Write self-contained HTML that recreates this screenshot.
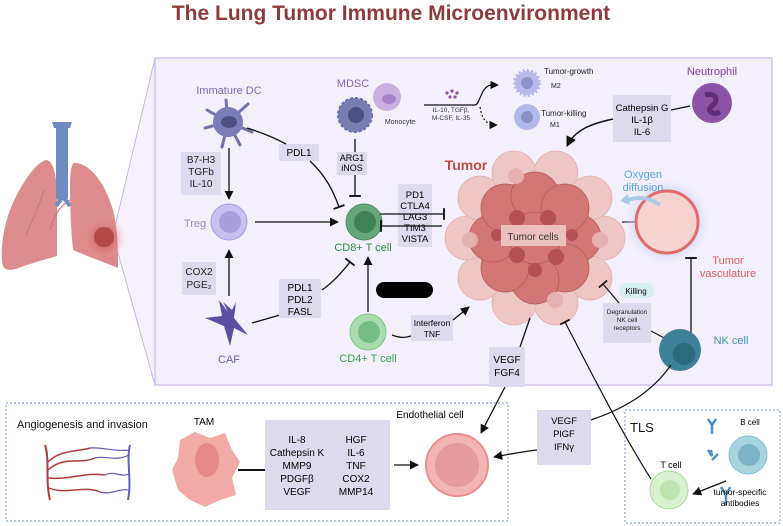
<!DOCTYPE html>
<html><head><meta charset="utf-8"><style>
html,body{margin:0;padding:0;background:#fff;}
svg{display:block;font-family:"Liberation Sans",Arial,sans-serif;}
</style></head><body>
<svg width="783" height="526" viewBox="0 0 783 526" xmlns="http://www.w3.org/2000/svg">
<defs>
<marker id="a" viewBox="0 0 10 10" refX="9" refY="5" markerWidth="7" markerHeight="7" orient="auto"><path d="M0,0L10,5L0,10z" fill="#111"/></marker>
<marker id="t" viewBox="0 0 10 10" refX="5" refY="5" markerWidth="9" markerHeight="9" orient="auto"><path d="M5,0V10" stroke="#111" stroke-width="1.6"/></marker>
<radialGradient id="glow"><stop offset="0.55" stop-color="#b8c8f0" stop-opacity="0.9"/><stop offset="1" stop-color="#f3effa" stop-opacity="0"/></radialGradient>
<radialGradient id="lglow"><stop offset="0.2" stop-color="#c43030" stop-opacity="0.6"/><stop offset="1" stop-color="#e8a0a0" stop-opacity="0"/></radialGradient>
</defs>
<text x="391" y="20" text-anchor="middle" font-size="21" font-weight="bold" fill="#8e3b3b">The Lung Tumor Immune Microenvironment</text>

<!-- wedge + main box -->
<polygon points="155,58 113,235 155,385" fill="#f5f0fc" stroke="#c9b5e8" stroke-width="1"/>
<rect x="155" y="58" width="617" height="327" fill="#f4f0fb" stroke="#d3c2ea" stroke-width="1.5"/>

<!-- lung -->
<path d="M46,160 C36,162 20,185 10,210 C2,232 0,255 3,266 C6,272 14,270 24,266 C36,262 50,258 57,256 L57,200 C57,178 54,160 46,160Z" fill="#dc8c8c"/>
<path d="M74,163 C90,162 106,185 113,210 C118,230 118,250 118,268 C104,262 86,256 73,250 C71,230 70,210 70,190 C70,175 71,164 74,163Z" fill="#dc8c8c"/>
<path d="M70,200 C62,205 56,210 50,230 M44,190 C38,210 30,225 26,235" stroke="#c97878" stroke-width="1.2" fill="none"/>
<circle cx="104" cy="238" r="22" fill="url(#lglow)"/>
<rect x="56" y="126" width="12" height="74" rx="3" fill="#6e8cc0"/>
<path d="M52,122 l20,0 l-2,6 l-16,0z" fill="#6e8cc0"/>
<path d="M62,198 L56,206 M64,198 L70,206" stroke="#6e8cc0" stroke-width="4"/>
<circle cx="104" cy="237" r="10" fill="#b44848"/>

<!-- Immature DC -->
<text x="229" y="94" text-anchor="middle" font-size="11" fill="#8066b0">Immature DC</text>
<g stroke="#7272ad" stroke-width="3" stroke-linecap="round">
<line x1="228" y1="122" x2="207" y2="110"/><line x1="228" y1="122" x2="248" y2="104"/><line x1="228" y1="122" x2="205" y2="128"/><line x1="228" y1="122" x2="252" y2="132"/><line x1="228" y1="122" x2="222" y2="147"/><line x1="228" y1="122" x2="240" y2="145"/><line x1="228" y1="122" x2="226" y2="100"/></g>
<circle cx="228" cy="122" r="15" fill="#7c7cb8"/><ellipse cx="229" cy="122" rx="8" ry="6" fill="#4f4f80"/>
<rect x="181" y="152" width="40" height="43" fill="#dcdaec"/>
<text font-size="10" fill="#222" text-anchor="middle"><tspan x="201" y="163">B7-H3</tspan><tspan x="201" y="175">TGFb</tspan><tspan x="201" y="187">IL-10</tspan></text>
<line x1="229" y1="148" x2="229" y2="199" stroke="#111" stroke-width="1.3" marker-end="url(#a)"/>

<!-- Treg -->
<text x="195" y="227" text-anchor="middle" font-size="11" fill="#9a84c8">Treg</text>
<circle cx="229" cy="222" r="18" fill="#c7c0f0" stroke="#a89ee0"/><circle cx="230" cy="222" r="11" fill="#a99fdf"/>
<line x1="255" y1="222" x2="338" y2="222" stroke="#111" stroke-width="1.3" marker-end="url(#a)"/>

<rect x="182" y="262" width="34" height="33" fill="#dcdaec"/>
<text font-size="10" fill="#222" text-anchor="middle"><tspan x="199" y="275">COX2</tspan><tspan x="199" y="288">PGE₂</tspan></text>
<line x1="229" y1="296" x2="229" y2="250" stroke="#111" stroke-width="1.3" marker-end="url(#a)"/>

<!-- CAF -->
<path d="M219,300 L228,312 L223,302 L232,310 L236,302 L234,318 L248,335 L234,328 L230,346 L224,326 L205,318 L222,316Z" fill="#5b4ea5"/>
<text x="229" y="363" text-anchor="middle" font-size="11" fill="#6a5cb0">CAF</text>
<path d="M252,323 L280,315" stroke="#111" stroke-width="1.3"/>

<!-- PDL1 -->
<rect x="279" y="144" width="40" height="17" fill="#dcdaec"/><text x="299" y="156" text-anchor="middle" font-size="10">PDL1</text>
<path d="M247,128 C260,132 275,138 286,144" stroke="#111" stroke-width="1.3" fill="none"/>
<path d="M310,161 C325,175 333,190 339,207" stroke="#111" stroke-width="1.3" fill="none" marker-end="url(#t)"/>

<!-- MDSC -->
<text x="353" y="87" text-anchor="middle" font-size="11" fill="#8066b0">MDSC</text>
<circle cx="355" cy="115" r="17" fill="#7a7db2" stroke="#6b6ea6" stroke-dasharray="3 2" stroke-width="2"/><circle cx="356" cy="115" r="8" fill="#4d4f80"/>
<line x1="355" y1="139" x2="355" y2="152" stroke="#111" stroke-width="1.3"/>
<rect x="337" y="152" width="30" height="23" fill="#dcdaec"/>
<text font-size="9" text-anchor="middle"><tspan x="352" y="161">ARG1</tspan><tspan x="352" y="171">iNOS</tspan></text>
<line x1="355" y1="175" x2="355" y2="196" stroke="#111" stroke-width="1.3" marker-end="url(#t)"/>

<!-- CD8 -->
<circle cx="364" cy="222" r="18" fill="#66a67a" stroke="#4d8c61"/><circle cx="365" cy="222" r="11" fill="#3f8253"/>
<text x="363" y="251" text-anchor="middle" font-size="11" fill="#2e8a3e">CD8+ T cell</text>
<rect x="398" y="184" width="34" height="63" fill="#dcdaec"/>
<text font-size="9.5" text-anchor="middle"><tspan x="415" y="198">PD1</tspan><tspan x="415" y="209">CTLA4</tspan><tspan x="415" y="220">LAG3</tspan><tspan x="415" y="231">TIM3</tspan><tspan x="415" y="242">VISTA</tspan></text>
<line x1="380" y1="214" x2="444" y2="214" stroke="#111" stroke-width="1.3" marker-end="url(#t)"/>
<line x1="442" y1="226" x2="381" y2="226" stroke="#111" stroke-width="1.3" marker-end="url(#t)"/>

<rect x="279" y="279" width="42" height="39" fill="#dcdaec"/>
<text font-size="10" text-anchor="middle"><tspan x="300" y="291">PDL1</tspan><tspan x="300" y="303">PDL2</tspan><tspan x="300" y="315">FASL</tspan></text>
<path d="M322,290 C332,283 340,275 350,262" stroke="#111" stroke-width="1.3" fill="none" marker-end="url(#t)"/>

<rect x="376" y="282" width="57" height="16" rx="8" fill="#000"/>

<!-- CD4 -->
<line x1="368" y1="312" x2="368" y2="257" stroke="#111" stroke-width="1.3" marker-end="url(#a)"/>
<circle cx="368" cy="332" r="18" fill="#a8dcae" stroke="#7fc089"/><circle cx="369" cy="332" r="11" fill="#78bd85"/>
<text x="368" y="362" text-anchor="middle" font-size="11" fill="#3aa04c">CD4+ T cell</text>
<path d="M392,335 C400,338 405,338 411,336" stroke="#111" stroke-width="1.3" fill="none"/>
<rect x="411" y="315" width="42" height="26" fill="#dcdaec"/>
<text font-size="8.5" text-anchor="middle"><tspan x="432" y="326">Interferon</tspan><tspan x="432" y="337">TNF</tspan></text>
<line x1="453" y1="320" x2="469" y2="307" stroke="#111" stroke-width="1.3" marker-end="url(#a)"/>

<!-- monocyte & macrophages -->
<circle cx="387" cy="97" r="14" fill="#c9b0e0"/><ellipse cx="389" cy="99" rx="7" ry="5" fill="#a784cc"/>
<text x="400" y="124" text-anchor="middle" font-size="7" fill="#333">Monocyte</text>
<g fill="#8a52a8"><circle cx="447" cy="93" r="1.6"/><circle cx="452" cy="91" r="1.6"/><circle cx="457" cy="93" r="1.6"/><circle cx="450" cy="97" r="1.6"/><circle cx="455" cy="97" r="1.6"/></g>
<text font-size="6.5" fill="#333" text-anchor="middle"><tspan x="451" y="112">IL-10, TGFβ,</tspan><tspan x="451" y="120">M-CSF, IL-35</tspan></text>
<path d="M424,105 L475,105 C480,105 481,85 492,85 L498,85" stroke="#111" stroke-width="1.2" fill="none" marker-end="url(#a)"/>
<path d="M480,107 C482,118 485,125 497,125" stroke="#111" stroke-width="1.2" fill="none" stroke-dasharray="2 2" marker-end="url(#a)"/>
<circle cx="527" cy="83" r="12" fill="#b8b8ec" stroke="#b8b8ec" stroke-width="4" stroke-dasharray="2 2"/><circle cx="527" cy="83" r="6" fill="#9090cc"/>
<circle cx="527" cy="117" r="13" fill="#b3b8ea"/><circle cx="527" cy="117" r="6" fill="#8a8fc8"/>
<text x="544" y="74" font-size="8" fill="#222">Tumor-growth</text><text x="551" y="88" font-size="7" fill="#222">M2</text>
<text x="541" y="116" font-size="8" fill="#222">Tumor-killing</text><text x="550" y="127" font-size="7" fill="#222">M1</text>

<!-- neutrophil -->
<text x="712" y="75" text-anchor="middle" font-size="11" fill="#7a3f9a">Neutrophil</text>
<circle cx="712" cy="103" r="20" fill="#8c52a5"/><path d="M705,95 C715,92 720,100 712,106 C706,110 712,116 720,112" stroke="#5e2f78" stroke-width="5" fill="none"/>
<line x1="690" y1="106" x2="671" y2="110" stroke="#111" stroke-width="1.3"/>
<rect x="613" y="95" width="58" height="47" fill="#dcdaec"/>
<text font-size="9.5" text-anchor="middle"><tspan x="642" y="111">Cathepsin G</tspan><tspan x="642" y="123">IL-1β</tspan><tspan x="642" y="135">IL-6</tspan></text>
<path d="M613,119 C590,124 575,130 567,146" stroke="#111" stroke-width="1.5" fill="none" marker-end="url(#a)"/>

<!-- Tumor mass -->
<g fill="#eec6c6" stroke="#e2b0b0" stroke-width="0.8">
<circle cx="603" cy="238" r="22"/><circle cx="590" cy="278" r="22"/><circle cx="556" cy="303" r="22"/><circle cx="514" cy="303" r="22"/><circle cx="480" cy="278" r="22"/><circle cx="467" cy="238" r="22"/><circle cx="480" cy="198" r="22"/><circle cx="514" cy="173" r="22"/><circle cx="556" cy="173" r="22"/><circle cx="590" cy="198" r="22"/></g>
<circle cx="535" cy="238" r="58" fill="#d98080"/>
<g fill="#d37676" stroke="#b45a5a" stroke-width="0.8">
<circle cx="577" cy="238" r="24"/><circle cx="565" cy="268" r="24"/><circle cx="535" cy="280" r="24"/><circle cx="505" cy="268" r="24"/><circle cx="493" cy="238" r="24"/><circle cx="505" cy="208" r="24"/><circle cx="535" cy="196" r="24"/><circle cx="565" cy="208" r="24"/><circle cx="535" cy="238" r="26"/></g>
<g fill="#b54f55"><circle cx="517" cy="218" r="8"/><circle cx="548" cy="218" r="8"/><circle cx="517" cy="255" r="8"/><circle cx="556" cy="257" r="8"/><circle cx="535" cy="270" r="7"/><circle cx="572" cy="235" r="6"/><circle cx="497" cy="235" r="6"/></g>
<g fill="#e4b0b0"><circle cx="470" cy="240" r="8"/><circle cx="600" cy="240" r="8"/><circle cx="516" cy="176" r="8"/><circle cx="555" cy="300" r="8"/></g>
<rect x="501" y="225" width="65" height="21" fill="#f1cccc" opacity="0.85"/>
<text x="533" y="240" text-anchor="middle" font-size="10" fill="#333">Tumor cells</text>
<text x="466" y="170" text-anchor="middle" font-size="14" font-weight="bold" fill="#c44a4a">Tumor</text>
<line x1="622" y1="222" x2="660" y2="222" stroke="#111" stroke-width="1.3" marker-end="url(#a)"/>

<!-- vasculature -->
<circle cx="667" cy="222" r="46" fill="url(#glow)"/>
<circle cx="667" cy="222" r="31" fill="#f7d3cf" stroke="#e26a6a" stroke-width="3"/>
<text x="643" y="178" text-anchor="middle" font-size="11" fill="#5aa3dc">Oxygen</text><text x="643" y="191" text-anchor="middle" font-size="11" fill="#5aa3dc">diffusion</text>
<path d="M660,205 C650,198 640,196 628,200" stroke="#a7cbe8" stroke-width="4" fill="none"/><path d="M628,194 L620,201 L630,205z" fill="#a7cbe8"/>
<text x="728" y="264" text-anchor="middle" font-size="11" fill="#e05a64">Tumor</text><text x="728" y="277" text-anchor="middle" font-size="11" fill="#e05a64">vasculature</text>
<line x1="691" y1="334" x2="691" y2="258" stroke="#111" stroke-width="1.3" marker-end="url(#t)"/>

<!-- NK -->
<rect x="619" y="283" width="35" height="15" rx="7" fill="#d6f0f0"/><text x="636" y="294" text-anchor="middle" font-size="8">Killing</text>
<rect x="603" y="303" width="48" height="40" fill="#dcdaec"/>
<text font-size="6.5" text-anchor="middle" fill="#222"><tspan x="627" y="314">Degranulation</tspan><tspan x="627" y="322">NK cell</tspan><tspan x="627" y="330">receptors</tspan></text>
<line x1="619" y1="303" x2="603" y2="284" stroke="#111" stroke-width="1.2" marker-end="url(#t)"/>
<line x1="651" y1="331" x2="668" y2="340" stroke="#111" stroke-width="1.2"/>
<circle cx="680" cy="350" r="21" fill="#3d8198"/><circle cx="684" cy="354" r="11" fill="#2c6a80"/>
<text x="731" y="344" text-anchor="middle" font-size="11" fill="#3b8fa8">NK cell</text>

<!-- VEGF FGF4 -->
<line x1="530" y1="318" x2="520" y2="347" stroke="#111" stroke-width="1.3"/>
<rect x="489" y="347" width="36" height="40" fill="#dcdaec"/>
<text font-size="10" text-anchor="middle"><tspan x="507" y="363">VEGF</tspan><tspan x="507" y="376">FGF4</tspan></text>
<line x1="505" y1="387" x2="481" y2="433" stroke="#111" stroke-width="1.3" marker-end="url(#a)"/>

<path d="M651,479 C620,430 590,370 565,322" stroke="#111" stroke-width="1.2" fill="none" marker-end="url(#t)"/>
<path d="M671,365 C650,395 620,410 591,420" stroke="#111" stroke-width="1.2" fill="none"/>

<!-- bottom left box -->
<rect x="6" y="403" width="502" height="118" fill="none" stroke="#8aa8d6" stroke-width="1.2" stroke-dasharray="2 2"/>
<text x="17" y="428" font-size="11" fill="#111">Angiogenesis and invasion</text>
<g fill="none" stroke-width="2">
<path d="M45,445 C50,460 45,480 50,500" stroke="#b23a3a"/><path d="M130,445 C126,460 132,480 128,500" stroke="#5a64c0"/>
<path d="M48,470 C65,455 80,465 95,458 M48,478 C70,480 85,472 105,475 M49,488 C65,495 85,485 100,492 M48,462 C60,450 75,452 90,448" stroke="#b23a3a" stroke-width="1.5"/>
<path d="M95,458 C105,455 115,462 129,455 M105,475 C115,470 120,478 129,474 M100,492 C112,495 120,488 128,490 M90,448 C102,447 115,452 130,450" stroke="#6a50b5" stroke-width="1.2"/>
</g>
<text x="204" y="425" text-anchor="middle" font-size="10">TAM</text>
<path d="M180,440 L195,432 L210,438 L225,433 L232,450 L240,462 L232,478 L236,495 L220,500 L205,507 L190,500 L178,490 L172,470 L178,458Z" fill="#f2aaa6"/>
<ellipse cx="207" cy="460" rx="12" ry="17" fill="#e38a88"/>
<line x1="238" y1="470" x2="265" y2="470" stroke="#111" stroke-width="2"/>
<rect x="265" y="420" width="125" height="90" fill="#dcdaec"/>
<text font-size="10" text-anchor="middle"><tspan x="297" y="443">IL-8</tspan><tspan x="297" y="456">Cathepsin K</tspan><tspan x="297" y="469">MMP9</tspan><tspan x="297" y="482">PDGFβ</tspan><tspan x="297" y="495">VEGF</tspan></text>
<text font-size="10" text-anchor="middle"><tspan x="356" y="443">HGF</tspan><tspan x="356" y="456">IL-6</tspan><tspan x="356" y="469">TNF</tspan><tspan x="356" y="482">COX2</tspan><tspan x="356" y="495">MMP14</tspan></text>
<line x1="394" y1="465" x2="418" y2="465" stroke="#111" stroke-width="1.3" marker-end="url(#a)"/>
<text x="430" y="418" text-anchor="middle" font-size="10">Endothelial cell</text>
<circle cx="457" cy="465" r="31" fill="#f3b5b3" stroke="#e88e8e" stroke-width="2"/><circle cx="457" cy="465" r="22" fill="#e59a9c"/>
<rect x="537" y="410" width="54" height="55" fill="#dcdaec"/>
<text font-size="9.5" text-anchor="middle"><tspan x="564" y="424">VEGF</tspan><tspan x="564" y="437">PlGF</tspan><tspan x="564" y="450">IFNγ</tspan></text>
<path d="M537,450 C520,452 505,455 494,457" stroke="#111" stroke-width="1.3" fill="none" marker-end="url(#a)"/>

<!-- TLS -->
<rect x="625" y="410" width="155" height="113" fill="none" stroke="#8aa8d6" stroke-width="1.2" stroke-dasharray="2 2"/>
<text x="630" y="432" font-size="13" fill="#111">TLS</text>
<text x="750" y="425" text-anchor="middle" font-size="8">B cell</text>
<circle cx="748" cy="455" r="19" fill="#a8d4e0" stroke="#86bccc"/><circle cx="749" cy="455" r="11" fill="#7cb3c5"/>
<text x="671" y="468" text-anchor="middle" font-size="9">T cell</text>
<circle cx="669" cy="490" r="19" fill="#d8f2cf" stroke="#a8d89a"/><circle cx="670" cy="490" r="10" fill="#bde3ae"/>
<line x1="726" y1="481" x2="693" y2="494" stroke="#111" stroke-width="1.3" marker-end="url(#a)"/>
<g stroke="#4a8fc8" stroke-width="2.5" fill="none"><path d="M712,425 l0,9 M708,419 l4,6 l4,-6"/><path d="M712,460 l6,-6 M708,450 l4,6 l-1,-6"/><path d="M726,495 l0,10 M721,487 l5,8 l4,-8"/></g>
<text font-size="8.5" text-anchor="middle"><tspan x="740" y="495">tumor-specific</tspan><tspan x="740" y="506">antibodies</tspan></text>
</svg>
</body></html>
